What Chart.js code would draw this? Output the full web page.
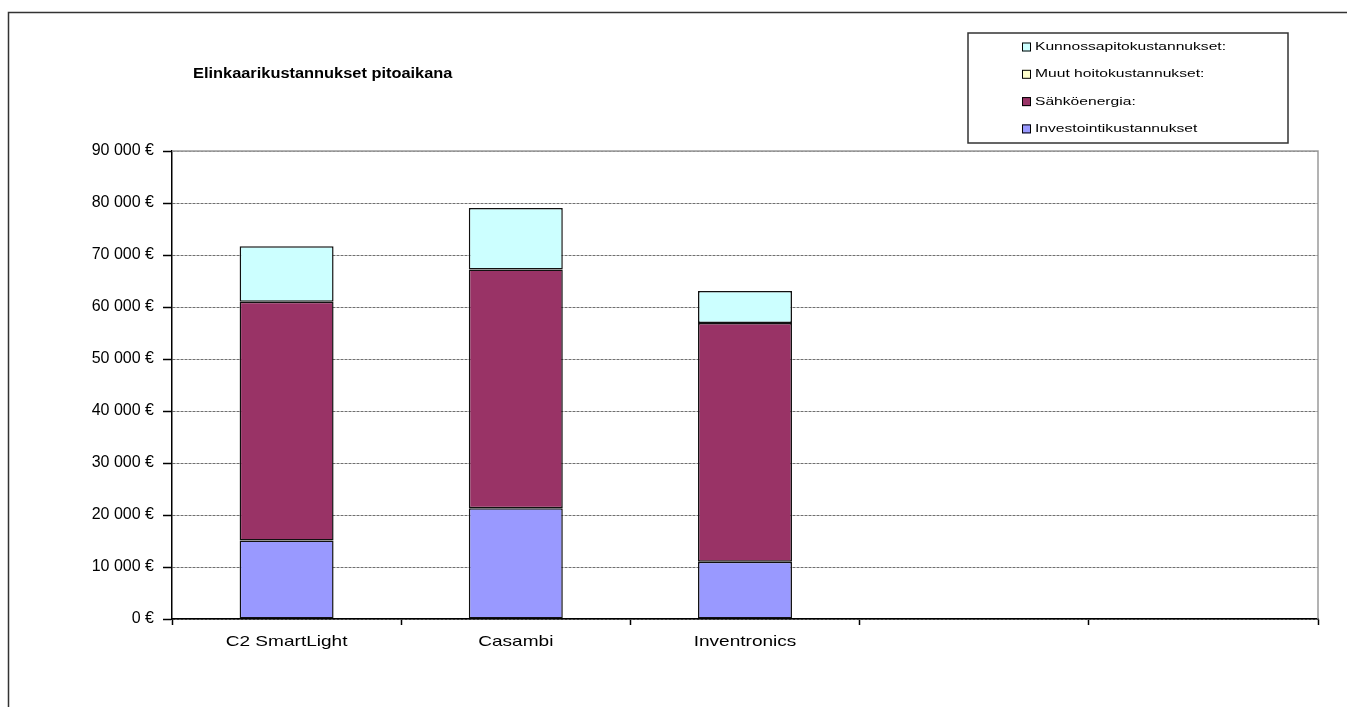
<!DOCTYPE html>
<html>
<head>
<meta charset="utf-8">
<script src="https://cdn.jsdelivr.net/npm/chart.js@4.4.1/dist/chart.umd.min.js"></script>
<style>
html,body{margin:0;padding:0;background:#fff;}
#wrap{position:relative;width:1347px;height:707px;}
</style>
</head>
<body>
<div id="wrap"><canvas id="c" width="1347" height="707"></canvas></div>
<script>
const titleText = 'Elinkaarikustannukset pitoaikana';
const categories = ['C2 SmartLight', 'Casambi', 'Inventronics', '', ''];
const investointi = [15100, 21300, 11000, null, null];
const sahkoenergia = [45900, 45900, 45900, null, null];
const muutHoito = [0, 0, 0, null, null];
const kunnossapito = [10700, 11850, 6200, null, null];
const seriesNames = ['Investointikustannukset', 'Sähköenergia:', 'Muut hoitokustannukset:', 'Kunnossapitokustannukset:'];
const yTicks = [0, 10000, 20000, 30000, 40000, 50000, 60000, 70000, 80000, 90000];

const FONT = '"Liberation Sans", Arial, sans-serif';

// draw text horizontally stretched by factor k around its anchor point
function stretchedText(ctx, text, x, y, k) {
  ctx.save();
  ctx.translate(x, y);
  ctx.scale(k, 1);
  ctx.fillText(text, 0, 0);
  ctx.restore();
}

function patchStretch(scale, k) {
  if (!scale || scale._stretchPatched) return;
  const orig = scale.drawLabels;
  scale.drawLabels = function (area) {
    const c = this.ctx;
    const proto = Object.getPrototypeOf(c).fillText;
    c.fillText = function (t, x, y) {
      c.save(); c.translate(x, y); c.scale(k, 1); proto.call(c, t, 0, 0); c.restore();
    };
    try { orig.call(this, area); } finally { delete c.fillText; }
  };
  scale._stretchPatched = true;
}

const decor = {
  id: 'decor',
  beforeDraw(chart) {
    const ctx = chart.ctx;
    ctx.save();
    ctx.fillStyle = '#fff';
    ctx.fillRect(0, 0, chart.width, chart.height);
    ctx.restore();
    patchStretch(chart.scales.x, 1.27);
  },
  afterDraw(chart) {
    const ctx = chart.ctx;
    const a = chart.chartArea;
    ctx.save();
    // outer chart border
    ctx.strokeStyle = '#333';
    ctx.lineWidth = 1.5;
    ctx.beginPath();
    ctx.moveTo(8.5, chart.height);
    ctx.lineTo(8.5, 12.5);
    ctx.lineTo(chart.width, 12.5);
    ctx.stroke();
    // plot area border top/right (gray)
    ctx.strokeStyle = '#9a9a9a';
    ctx.lineWidth = 1.5;
    ctx.beginPath();
    ctx.moveTo(a.left, a.top);
    ctx.lineTo(a.right, a.top);
    ctx.lineTo(a.right, a.bottom);
    ctx.stroke();
    // title
    ctx.fillStyle = '#000';
    ctx.font = 'bold 14px ' + FONT;
    ctx.textBaseline = 'middle';
    ctx.textAlign = 'left';
    stretchedText(ctx, titleText, 193, 74, 1.17);
    // legend box
    const lx = 968, ly = 33, lw = 320, lh = 110;
    ctx.fillStyle = '#fff';
    ctx.fillRect(lx, ly, lw, lh);
    ctx.strokeStyle = '#333';
    ctx.lineWidth = 1.5;
    ctx.strokeRect(lx, ly, lw, lh);
    const ds = chart.data.datasets;
    ctx.font = '11px ' + FONT;
    for (let i = 0; i < ds.length; i++) {
      const d = ds[ds.length - 1 - i];
      const y = 47 + i * 27.3;
      ctx.fillStyle = d.backgroundColor;
      ctx.fillRect(1022, y - 4.5, 9, 9);
      ctx.strokeStyle = '#000';
      ctx.lineWidth = 1;
      ctx.strokeRect(1022.5, y - 4, 8, 8);
      ctx.fillStyle = '#000';
      stretchedText(ctx, d.label, 1035, y, 1.42);
    }
    ctx.restore();
  }
};

const mk = (label, data, color) => ({
  label, data, backgroundColor: color, borderColor: '#111', borderWidth: 1.5,
  borderSkipped: false, categoryPercentage: 1.0, barPercentage: 0.41
});

new Chart(document.getElementById('c'), {
  type: 'bar',
  data: {
    labels: categories,
    datasets: [
      mk(seriesNames[0], investointi, '#9999FF'),
      mk(seriesNames[1], sahkoenergia, '#993366'),
      mk(seriesNames[2], muutHoito, '#FFFFCC'),
      mk(seriesNames[3], kunnossapito, '#CCFFFF')
    ]
  },
  options: {
    responsive: false,
    animation: false,
    devicePixelRatio: 1,
    layout: { padding: { top: 151, left: 0, right: 29, bottom: 0 } },
    plugins: { legend: { display: false }, tooltip: { enabled: false }, title: { display: false } },
    scales: {
      x: {
        stacked: true,
        grid: { offset: true, drawOnChartArea: false, drawTicks: true, tickLength: 6, tickColor: '#000', tickWidth: 1.5 },
        border: { display: true, color: '#000', width: 1.5 },
        ticks: { color: '#000', font: { family: FONT, size: 15 }, padding: 8, maxRotation: 0, autoSkip: false },
        afterFit(s) { s.height = 88; }
      },
      y: {
        stacked: true,
        min: 0, max: 90000,
        afterBuildTicks(s) { s.ticks = yTicks.map(v => ({ value: v })); },
        grid: { color: '#707070', lineWidth: 1, drawTicks: true, tickLength: 9, tickColor: '#000', tickWidth: 1.5 },
        border: { display: true, color: '#000', width: 1.5, dash: [3, 1] },
        ticks: {
          color: '#000', font: { family: FONT, size: 16 }, padding: 9,
          callback: v => (v === 0 ? '0' : Math.round(v / 1000) + ' 000') + ' €'
        },
        afterFit(s) { s.width = 172; }
      }
    }
  },
  plugins: [decor]
});
</script>
</body>
</html>
